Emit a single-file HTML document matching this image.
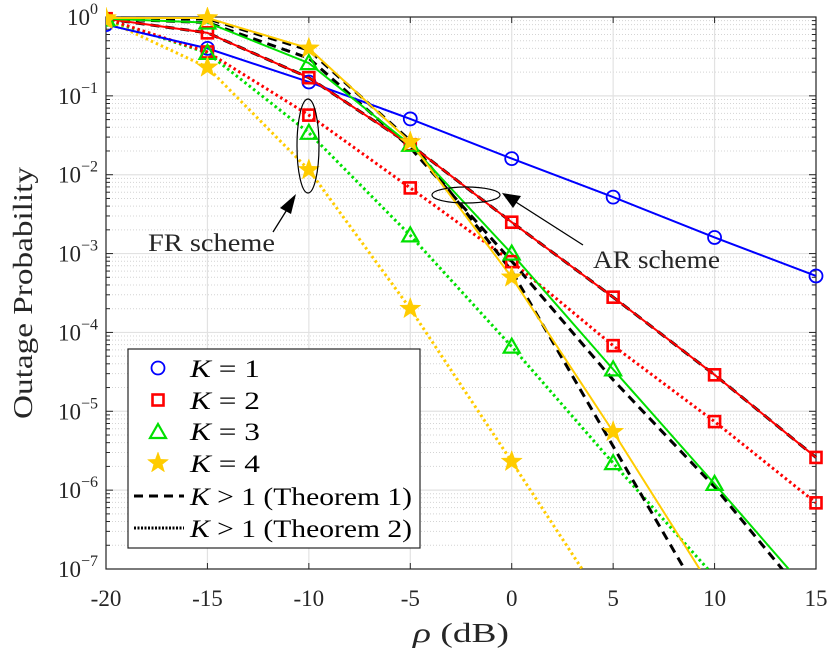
<!DOCTYPE html>
<html><head><meta charset="utf-8"><style>
html,body{margin:0;padding:0;background:#fff;}
svg{display:block;font-family:"Liberation Serif",serif;}
</style></head><body>
<svg id="chart" width="830" height="652" viewBox="0 0 830 652"></svg>
<script>
const xTicks=[-20,-15,-10,-5,0,5,10,15];
const yExps=[0,-1,-2,-3,-4,-5,-6,-7];
const snr=[-20,-15,-10,-5,0,5,10,15];
const k1=[0.8,0.40,0.15,0.051,0.016,0.0052,0.0016,5.2e-4];
const k2AR=[0.95,0.63,0.17,0.024,2.5e-3,2.8e-4,2.9e-5,2.6e-6];
const k3AR=[0.95,0.85,0.26,0.024,1.0e-3,3.4e-5,1.2e-6,4e-8];
const k4AR=[0.97,0.97,0.40,0.026,5e-4,5.5e-6,5e-8];
const k2FR=[0.95,0.36,0.057,6.8e-3,7.9e-4,6.8e-5,7.4e-6,6.9e-7];
const k3FR=[0.93,0.35,0.034,1.7e-3,6.6e-5,2.2e-6,8e-8];
const k4FR=[0.92,0.23,0.0115,2.0e-4,2.3e-6,2.5e-8];
const t1K2=[0.95,0.63,0.17,0.024,2.5e-3,2.8e-4,2.9e-5,2.6e-6];
const t1K3=[0.95,0.85,0.30,0.022,8e-4,2.5e-5,1.1e-6,3e-8];
const t1K4=[0.97,0.95,0.38,0.027,6e-4,3.6e-6,2.2e-8];
const L=106,R=816,T=17,B=569;
const X=v=>L+(v-(-20))/35*(R-L);
const Y=p=>T+(-Math.log10(p))/7*(B-T);
const svg=document.getElementById('chart');
const NS='http://www.w3.org/2000/svg';
function mk(tag,attrs,parent){const e=document.createElementNS(NS,tag);for(const k in attrs)e.setAttribute(k,attrs[k]);(parent||svg).appendChild(e);return e;}
const defs=mk('defs',{});const cp=mk('clipPath',{id:'clip'},defs);mk('rect',{x:L,y:T-12,width:R-L+12,height:B-T+12},cp);
const grid=mk('g',{});


for(let e=0;e<7;e++){for(let m=2;m<=9;m++){const y=Y(m*Math.pow(10,-e-1));mk('line',{x1:L,x2:R,y1:y,y2:y,stroke:'#d4d4d4','stroke-width':1,'stroke-dasharray':'1 2'},grid);}}
yExps.forEach(e=>{const y=Y(Math.pow(10,e));mk('line',{x1:L,x2:R,y1:y,y2:y,stroke:'#e2e2e2','stroke-width':1.2},grid);});
xTicks.forEach(v=>{mk('line',{x1:X(v),x2:X(v),y1:T,y2:B,stroke:'#e2e2e2','stroke-width':1.2},grid);});
const ax=mk('rect',{x:L,y:T,width:R-L,height:B-T,fill:'none',stroke:'#262626','stroke-width':1.2});


xTicks.forEach(v=>{mk('line',{x1:X(v),x2:X(v),y1:B,y2:B-6,stroke:'#262626'});mk('line',{x1:X(v),x2:X(v),y1:T,y2:T+6,stroke:'#262626'});
const t=mk('text',{x:X(v),y:B+37,'text-anchor':'middle','font-size':23,fill:'#262626'});t.textContent=v;

});
for(let e=0;e<7;e++){for(let m=2;m<=9;m++){const y=Y(m*Math.pow(10,-e-1));mk('line',{x1:L,x2:L+4,y1:y,y2:y,stroke:'#262626'});mk('line',{x1:R,x2:R-4,y1:y,y2:y,stroke:'#262626'});}}
yExps.forEach(e=>{const y=Y(Math.pow(10,e));mk('line',{x1:L,x2:L+7,y1:y,y2:y,stroke:'#262626'});mk('line',{x1:R,x2:R-7,y1:y,y2:y,stroke:'#262626'});
const t=mk('text',{x:L-8,y:y+8,'text-anchor':'end','font-size':23,fill:'#262626'});


t.textContent='10';const s=mk('tspan',{dy:-11,'font-size':16},t);s.textContent=e===0?'0':'\u2212'+(-e);});
const yt=mk('text',{x:0,y:0,transform:'translate(32,293) rotate(-90)','text-anchor':'middle','font-size':27,fill:'#262626',textLength:252,lengthAdjust:'spacingAndGlyphs'});yt.textContent='Outage Probability';


const xt=mk('text',{x:461,y:642,'text-anchor':'middle','font-size':27,fill:'#262626',textLength:96,lengthAdjust:'spacingAndGlyphs'});


const r1=mk('tspan',{'font-style':'italic'},xt);r1.textContent='ρ';const r2=mk('tspan',{},xt);r2.textContent=' (dB)';
const plot=mk('g',{'clip-path':'url(#clip)'});
const BLUE='#0000ff',RED='#ff0000',GREEN='#00e000',YEL='#ffcc00';
function line(vals,color,dash,w,name){const pts=vals.map((v,i)=>X(snr[i])+','+Y(v)).join(' ');const p=mk('polyline',{points:pts,fill:'none',stroke:color,'stroke-width':w,'stroke-dasharray':dash||'none'},plot);

}
function marker(type,x,y,color,g){
 if(type==='o')mk('circle',{cx:x,cy:y,r:6.5,fill:'none',stroke:color,'stroke-width':1.8},g);
 else if(type==='s')mk('rect',{x:x-5.5,y:y-5.5,width:11,height:11,fill:'none',stroke:color,'stroke-width':2.6},g);
 else if(type==='t')mk('polygon',{points:`${x},${y-8} ${x+8},${y+6} ${x-8},${y+6}`,fill:'none',stroke:color,'stroke-width':2.2},g);
 else {let p=[];for(let i=0;i<10;i++){const r=i%2?4.5:11;const a=-Math.PI/2+i*Math.PI/5;p.push((x+r*Math.cos(a))+','+(y+r*Math.sin(a)));}mk('polygon',{points:p.join(' '),fill:color,stroke:color,'stroke-width':0.5},g);}
}
function marks(vals,type,color,name){const g=mk('g',{},plot);


vals.forEach((v,i)=>{if(v>=1e-7)marker(type,X(snr[i]),Y(v),color,g);});}
line(k4FR,YEL,'2.5 3',3,'k4-fr-line');line(k3FR,GREEN,'2.5 3',3,'k3-fr-line');line(k2FR,RED,'2.5 3',3,'k2-fr-line');
line(t1K4,'#000','9 6',3,'theorem1-k4-line');line(t1K3,'#000','9 6',3,'theorem1-k3-line');line(t1K2,'#000','9 6',3,'theorem1-k2-line');
line(k1,BLUE,null,2,'k1-line');line(k2AR,RED,null,2,'k2-ar-line');line(k3AR,GREEN,null,2,'k3-ar-line');line(k4AR,YEL,null,2,'k4-ar-line');
marks(k1,'o',BLUE,'k1-markers');marks(k2AR,'s',RED,'k2-ar-markers');marks(k2FR,'s',RED,'k2-fr-markers');
marks(k3AR,'t',GREEN,'k3-ar-markers');marks(k3FR,'t',GREEN,'k3-fr-markers');
marks(k4AR,'*',YEL,'k4-ar-markers');marks(k4FR,'*',YEL,'k4-fr-markers');
const ann=mk('g',{});


mk('ellipse',{cx:308,cy:146,rx:11,ry:47,fill:'none',stroke:'#000','stroke-width':1.2},ann);
mk('line',{x1:273,y1:232,x2:293,y2:200,stroke:'#000','stroke-width':1.3},ann);
mk('polygon',{points:'296,194 280,208 291,214',fill:'#000'},ann);
const fr=mk('text',{x:148,y:251,'font-size':25,fill:'#262626',textLength:127,lengthAdjust:'spacingAndGlyphs'},ann);fr.textContent='FR scheme';
mk('ellipse',{cx:466,cy:195,rx:34,ry:8,fill:'none',stroke:'#000','stroke-width':1.2},ann);
mk('line',{x1:583,y1:245,x2:508,y2:197,stroke:'#000','stroke-width':1.3},ann);
mk('polygon',{points:'502,193 521,196 513,208',fill:'#000'},ann);
const ar=mk('text',{x:593,y:268,'font-size':25,fill:'#262626',textLength:127,lengthAdjust:'spacingAndGlyphs'},ann);ar.textContent='AR scheme';
const lg=mk('g',{});


mk('rect',{x:128,y:349,width:292,height:199,fill:'#fff',stroke:'#262626','stroke-width':1.2},lg);
const rows=[368,400,431,463,496,528];
const labels=[['K',' = 1'],['K',' = 2'],['K',' = 3'],['K',' = 4'],['K',' > 1 (Theorem 1)'],['K',' > 1 (Theorem 2)']];
const widths=[70,70,70,70,222,222];
marker('o',158,rows[0],BLUE,lg);marker('s',158,rows[1],RED,lg);marker('t',158,rows[2]+1,GREEN,lg);marker('*',158,rows[3],YEL,lg);
mk('line',{x1:134,x2:184,y1:rows[4],y2:rows[4],stroke:'#000','stroke-width':3,'stroke-dasharray':'9 6'},lg);
mk('line',{x1:134,x2:184,y1:rows[5],y2:rows[5],stroke:'#000','stroke-width':3,'stroke-dasharray':'2 1.5'},lg);
labels.forEach((l,i)=>{const t=mk('text',{x:190,y:rows[i]+9,'font-size':25,fill:'#000',textLength:widths[i],lengthAdjust:'spacingAndGlyphs'},lg);


const a=mk('tspan',{'font-style':'italic'},t);a.textContent=l[0];const b=mk('tspan',{},t);b.textContent=l[1];});
</script>
</body></html>
